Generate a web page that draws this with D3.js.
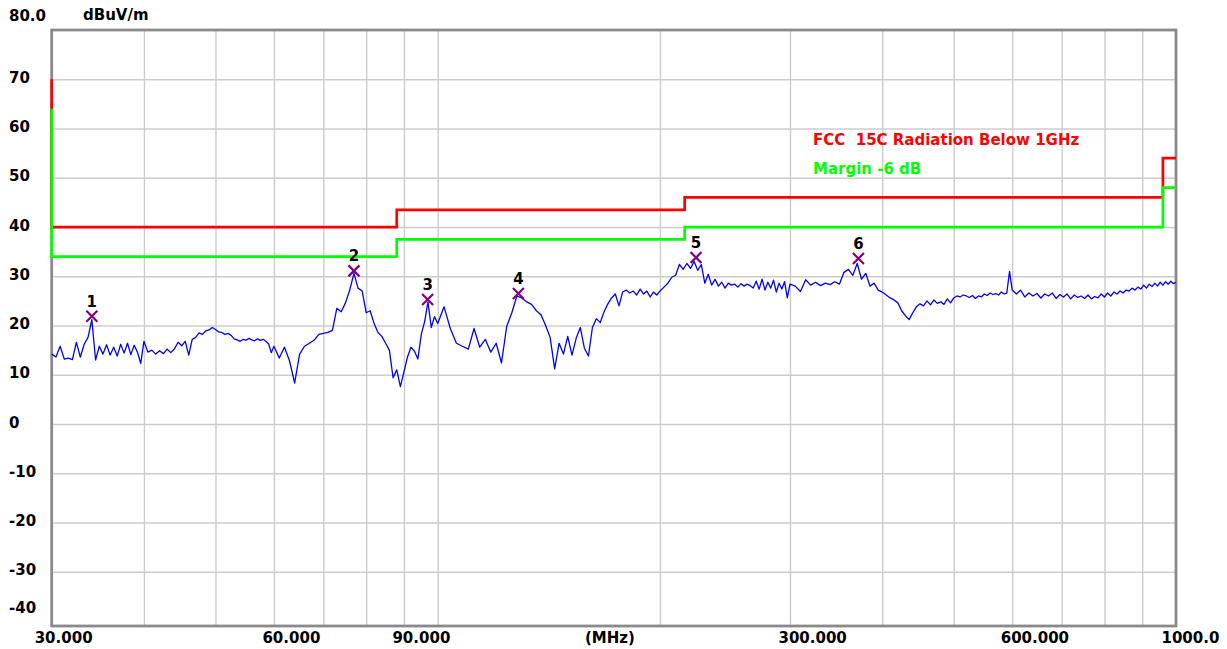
<!DOCTYPE html>
<html lang="en">
	<head>
		<meta charset="utf-8">
		<title>Radiated emission scan 30MHz - 1GHz</title>
		<script type="text/javascript" src="https://d3js.org/d3.v7.min.js"></script>
		<style type="text/css">
			body { margin: 0; background: #ffffff; }
			svg { display: block; }
			text { font-family: "DejaVu Sans", sans-serif; font-weight: bold; font-size: 15px; }
			.grid line { stroke: #cccccc; stroke-width: 1.4px; }
			.grid .domain { display: none; }
		</style>
	</head>
	<body>
		<script type="text/javascript">

			//Width and height
			var w = 1227;
			var h = 649;

			//Plot area
			var plotLeft = 51.7;
			var plotRight = 1176;
			var plotTop = 30;
			var plotBottom = 626;

			//Measured sweep (MHz)
			var scanFreq = [
				30, 30.4, 30.8, 31.2, 31.6, 32, 32.4, 32.8, 33.2, 33.6, 34, 34.4, 34.8, 35.2, 35.6, 36, 36.4, 36.8, 37.2, 37.6, 38, 38.4, 38.8, 39.2, 39.6, 40,
				40.5, 41, 41.5, 42, 42.5, 43, 43.5, 44, 44.5, 45, 45.5, 46, 46.5, 47, 47.5, 48, 48.5, 49, 49.5, 50,
				50.5, 51, 51.5, 52, 52.5, 53, 53.5, 54, 54.5, 55, 55.5, 56, 56.5, 57, 57.5, 58, 58.5, 59, 59.5, 60,
				61, 62, 63, 64, 65, 66, 67, 68, 69, 70, 71, 72, 73, 74, 75, 76, 77, 78, 79, 80,
				81, 82, 83, 84, 85, 86, 87, 88, 89, 90, 91, 92, 93, 94, 95, 96, 97, 98, 99, 100,
				102, 104, 106, 108, 110, 112, 114, 116, 118, 120, 122, 124, 126, 128, 130, 132, 134, 136, 138, 140,
				142, 144, 146, 148, 150, 152, 154, 156, 158, 160, 162, 164, 166, 168, 170, 172, 174, 176, 178, 180,
				182, 184, 186, 188, 190, 192, 194, 196, 198, 200,
				202.5, 205, 207.5, 210, 212.5, 215, 217.5, 220, 222.5, 225, 227.5, 230, 232.5, 235, 237.5, 240, 242.5, 245, 247.5, 250,
				252.5, 255, 257.5, 260, 262.5, 265, 267.5, 270, 272.5, 275, 277.5, 280, 282.5, 285, 287.5, 290, 292.5, 295, 297.5, 300,
				305, 310, 315, 320, 325, 330, 335, 340, 345, 350, 355, 360, 365, 370, 375, 380, 385, 390, 395, 400,
				405, 410, 415, 420, 425, 430, 435, 440, 445, 450, 455, 460, 465, 470, 475, 480, 485, 490, 495, 500,
				505, 510, 515, 520, 525, 530, 535, 540, 545, 550, 555, 560, 565, 570, 575, 580, 585, 590, 595, 600,
				608, 616, 624, 632, 640, 648, 656, 664, 672, 680, 688, 696, 704, 712, 720, 728, 736, 744, 752, 760,
				768, 776, 784, 792, 800, 808, 816, 824, 832, 840, 848, 856, 864, 872, 880, 888, 896, 904, 912, 920,
				928, 936, 944, 952, 960, 968, 976, 984, 992, 1000
			];

			//Measured level (dBuV/m)
			var scanLevel = [
				14.2, 13.6, 15.8, 13.2, 13.4, 13.1, 16.6, 13.6, 16.2, 17.6, 21.2, 13.0, 15.8, 14.2, 16.1, 14.0, 15.6, 13.8, 16.2, 14.4, 16.4, 14.1, 16.0, 14.6, 12.3, 16.8,
				14.6, 15.0, 14.2, 14.9, 14.3, 15.2, 14.5, 15.3, 16.6, 15.9, 16.8, 14.0, 17.2, 17.6, 18.5, 18.2, 18.9, 19.1, 19.6, 19.2,
				18.7, 18.6, 18.2, 18.4, 18.0, 17.3, 17.1, 16.8, 17.2, 17.0, 17.4, 17.1, 16.9, 17.3, 17.0, 17.2, 16.8, 16.3, 14.5, 15.8,
				13.4, 15.6, 12.8, 8.3, 14.2, 15.8, 16.4, 17.0, 18.2, 18.4, 18.6, 19.0, 23.5, 22.8, 24.6, 27.2, 30.6, 27.6, 27.0, 22.6,
				23.0, 20.4, 18.6, 17.8, 16.4, 15.0, 9.4, 11.0, 7.6, 10.6, 13.6, 15.6, 14.8, 13.2, 18.2, 20.8, 24.8, 19.6, 21.8, 20.4,
				23.8, 19.4, 16.4, 15.8, 15.2, 19.4, 15.6, 17.2, 14.6, 16.4, 12.4, 19.8, 22.6, 26.0, 25.6, 24.8, 24.3, 23.0, 22.2, 20.0,
				17.6, 11.2, 16.4, 14.2, 17.8, 14.0, 17.4, 19.6, 15.4, 13.8, 19.6, 21.4, 20.6, 22.8, 24.4, 25.6, 26.4, 24.0, 26.8, 27.2,
				26.6, 27.0, 26.2, 27.4, 26.4, 27.0, 25.8, 26.8, 26.2, 27.0,
				27.8, 28.6, 29.8, 30.2, 32.4, 31.4, 32.6, 31.6, 33.0, 31.2, 32.4, 28.6, 30.4, 28.2, 29.4, 28.0, 28.8, 27.6, 28.6, 28.2,
				28.4, 27.8, 28.5, 28.0, 28.4, 28.1, 27.6, 29.0, 27.4, 29.4, 27.2, 28.8, 27.6, 29.2, 26.8, 28.6, 27.4, 28.9, 25.6, 28.4,
				28.0, 26.9, 29.3, 28.2, 28.8, 28.1, 28.6, 28.3, 28.9, 28.4, 30.8, 31.4, 30.2, 32.6, 29.4, 30.6, 28.0, 28.6, 27.2, 26.8,
				26.2, 25.6, 25.2, 24.6, 23.0, 22.0, 21.2, 22.6, 23.8, 24.4, 24.0, 25.0, 24.2, 25.2, 24.5, 24.8, 24.3, 25.4, 24.6, 25.6,
				26.0, 25.8, 26.2, 26.0, 25.7, 26.1, 25.5, 26.0, 25.8, 26.4, 26.1, 26.6, 26.3, 26.5, 26.2, 26.8, 26.4, 26.6, 31.0, 27.2,
				26.4, 27.2, 25.8, 26.6, 26.0, 26.5, 25.6, 26.4, 26.0, 26.6, 25.5, 26.3, 25.8, 26.4, 25.4, 26.2, 25.7, 26.0, 25.5, 26.2,
				25.4, 25.9, 25.6, 26.4, 25.8, 26.6, 26.0, 26.8, 26.4, 27.0, 26.6, 27.2, 27.0, 27.6, 27.2, 27.8, 27.4, 28.2, 27.6, 28.4,
				27.9, 28.6, 28.0, 28.8, 28.2, 28.9, 28.4, 29.0, 28.5, 28.8
			];

			//FCC 15C limit and -6 dB margin (stepped)
			var limitFreq = [30, 30, 88, 88, 216, 216, 960, 960, 1000];
			var limitLevel = [70, 40, 40, 43.5, 43.5, 46, 46, 54, 54];
			var marginLevel = [64, 34, 34, 37.5, 37.5, 40, 40, 48, 48];

			//Peak markers
			var markerFreq = [34.0, 77.0, 96.9, 128.6, 223.8, 371.4];
			var markerLevel = [21.9, 31.1, 25.3, 26.5, 33.8, 33.6];
			var markerLabel = ["1", "2", "3", "4", "5", "6"];

			//Ticks
			var yGrid = [70, 60, 50, 40, 30, 20, 10, 0, -10, -20, -30];
			var yTickValues = [80, 70, 60, 50, 40, 30, 20, 10, 0, -10, -20, -30, -40];
			var yTickLabels = ["80.0", "70", "60", "50", "40", "30", "20", "10", "0", "-10", "-20", "-30", "-40"];
			var xGrid = [40, 50, 60, 70, 80, 90, 100, 200, 300, 400, 500, 600, 700, 800, 900];
			var xTickValues = [30, 60, 90, 300, 600, 1000];
			var xTickLabels = ["30.000", "60.000", "90.000", "300.000", "600.000", "1000.0"];

			//Scales
			var x = d3.scaleLog()
					  .domain([30, 1000])
					  .range([plotLeft, plotRight]);

			var y = d3.scaleLinear()
					  .domain([-41, 80])
					  .range([plotBottom, plotTop]);

			//Create SVG element
			var svg = d3.select("body")
						.append("svg")
						.attr("width", w)
						.attr("height", h);

			svg.append("rect")
			   .attr("width", w)
			   .attr("height", h)
			   .attr("fill", "#ffffff");

			//Grid lines through the axis generators
			svg.append("g")
			   .attr("class", "grid")
			   .attr("transform", "translate(" + plotLeft + ",0)")
			   .call(d3.axisLeft(y)
					   .tickValues(yGrid)
					   .tickSize(-(plotRight - plotLeft))
					   .tickFormat(""));

			svg.append("g")
			   .attr("class", "grid")
			   .attr("transform", "translate(0," + plotBottom + ")")
			   .call(d3.axisBottom(x)
					   .tickValues(xGrid)
					   .tickSize(-(plotBottom - plotTop))
					   .tickFormat(""));

			//Frame
			svg.append("rect")
			   .attr("x", plotLeft)
			   .attr("y", plotTop)
			   .attr("width", plotRight - plotLeft)
			   .attr("height", plotBottom - plotTop)
			   .attr("fill", "none")
			   .attr("stroke", "#8a8a8a")
			   .attr("stroke-width", 2.8);

			//Limit lines
			var limitLine = d3.line()
							  .x(function(d, i) { return x(limitFreq[i]); })
							  .y(function(d) { return y(d); });

			svg.append("path")
			   .attr("d", limitLine(limitLevel))
			   .attr("fill", "none")
			   .attr("stroke", "#ff0000")
			   .attr("stroke-width", 2.7);

			svg.append("path")
			   .attr("d", limitLine(marginLevel))
			   .attr("fill", "none")
			   .attr("stroke", "#00ff00")
			   .attr("stroke-width", 2.7);

			//Measured trace
			var traceLine = d3.line()
							  .x(function(d, i) { return x(scanFreq[i]); })
							  .y(function(d) { return y(d); });

			svg.append("path")
			   .attr("d", traceLine(scanLevel))
			   .attr("fill", "none")
			   .attr("stroke", "#0000ff")
			   .attr("stroke-width", 1.3)
			   .attr("stroke-linejoin", "round");

			//Markers
			var marks = svg.selectAll("g.marker")
						   .data(markerLevel)
						   .enter()
						   .append("g")
						   .attr("class", "marker")
						   .attr("transform", function(d, i) {
								return "translate(" + x(markerFreq[i]) + "," + y(d) + ")";
						   });

			marks.append("path")
				 .attr("d", "M-5.5,-5.5L5.5,5.5M-5.5,5.5L5.5,-5.5")
				 .attr("stroke", "#800080")
				 .attr("stroke-width", 2.2)
				 .attr("fill", "none");

			marks.append("text")
				 .attr("y", -9.5)
				 .attr("text-anchor", "middle")
				 .attr("fill", "#000000")
				 .text(function(d, i) { return markerLabel[i]; });

			//Y labels
			svg.selectAll("text.ylab")
			   .data(yTickValues)
			   .enter()
			   .append("text")
			   .attr("class", "ylab")
			   .attr("x", 9)
			   .attr("y", function(d) {
					// end labels sit off their lines, like the original plot
					if (d === 80) return y(d) - 9.5;
					if (d === -40) return y(d) - 8;
					return y(d) + 3.5;
			   })
			   .text(function(d, i) { return yTickLabels[i]; });

			svg.append("text")
			   .attr("x", 83)
			   .attr("y", 20)
			   .text("dBuV/m");

			//X labels
			svg.selectAll("text.xlab")
			   .data(xTickValues)
			   .enter()
			   .append("text")
			   .attr("class", "xlab")
			   .attr("x", function(d, i) {
					if (i === 0) return x(d) - 17;
					if (i === xTickValues.length - 1) return x(d) - 14.5;
					return x(d) - 11.5;
			   })
			   .attr("y", 643)
			   .text(function(d, i) { return xTickLabels[i]; });

			svg.append("text")
			   .attr("x", 585)
			   .attr("y", 643)
			   .text("(MHz)");

			//Legend
			svg.append("text")
			   .attr("x", 813)
			   .attr("y", 145)
			   .attr("fill", "#ff0000")
			   .style("white-space", "pre")
			   .text("FCC  15C Radiation Below 1GHz");

			svg.append("text")
			   .attr("x", 813)
			   .attr("y", 174)
			   .attr("fill", "#00ff00")
			   .text("Margin -6 dB");

		</script>
	</body>
</html>
